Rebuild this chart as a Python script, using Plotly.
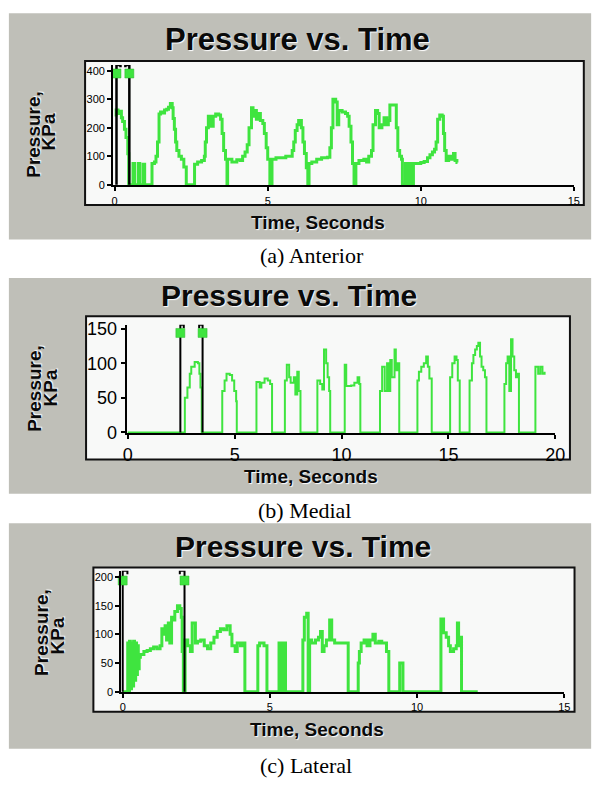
import plotly.graph_objects as go

W, H = 607, 786

# ---------------- data ----------------
# (a) Anterior  -- step trace, value holds until next time
time_a = [0.0, 0.05, 0.11, 0.16, 0.22, 0.26, 0.32, 0.37, 0.43, 0.46,
          0.6, 0.65, 0.77, 0.82, 0.93, 0.98,
          1.22, 1.3, 1.35, 1.4, 1.45, 1.5, 1.57, 1.63, 1.7, 1.76, 1.82, 1.88, 1.91, 1.95, 1.99, 2.03, 2.1, 2.18, 2.26, 2.34,
          2.61, 2.71, 2.84, 2.93, 2.96, 3.0, 3.06, 3.14, 3.22, 3.3, 3.4, 3.46, 3.51, 3.56, 3.62, 3.67,
          3.69, 3.83, 3.99, 4.1, 4.18, 4.26, 4.33, 4.39, 4.47, 4.52, 4.57, 4.63, 4.68, 4.76, 4.84, 4.89, 4.95, 5.0, 5.07,
          5.14, 5.27, 5.43, 5.59, 5.74, 5.8, 5.85, 5.9, 5.96, 6.01, 6.1, 6.15, 6.2, 6.26, 6.31,
          6.35, 6.44, 6.6, 6.76, 6.95, 7.03, 7.08, 7.13, 7.22, 7.27, 7.32, 7.43, 7.54, 7.61, 7.66, 7.72, 7.77, 7.82,
          7.88, 7.98, 8.14, 8.23, 8.3, 8.39, 8.44, 8.52, 8.59, 8.64, 8.73, 8.8, 8.89, 8.94, 8.99, 9.15, 9.2, 9.25, 9.31, 9.37, 9.4,
          9.5, 9.55, 9.63, 9.68, 9.76,
          10.0, 10.11, 10.22, 10.3, 10.38, 10.45, 10.5, 10.55, 10.62, 10.7, 10.74, 10.78, 10.83, 10.91, 11.0, 11.07, 11.12, 11.18, 11.2]
pres_a = [245, 262, 250, 258, 235, 222, 195, 166, 109, 0,
          75, 0, 75, 0, 72, 0,
          75, 80, 100, 150, 248, 255, 252, 262, 265, 272, 285, 270, 232, 195, 150, 120, 100, 90, 62, 0,
          72, 80, 85, 100, 150, 200, 240, 205, 240, 248, 245, 230, 180, 120, 90, 0,
          90, 80, 88, 85, 100, 115, 140, 200, 270, 240, 260, 230, 250, 225, 215, 180, 130, 90, 0,
          90, 95, 95, 100, 100, 120, 150, 190, 210, 225, 200, 150, 110, 60, 0,
          75, 80, 90, 95, 97, 130, 200, 300, 290, 210, 260, 255, 250, 240, 205, 150, 75, 0,
          75, 85, 90, 80, 100, 120, 210, 260, 250, 200, 210, 235, 210, 225, 280, 280, 200, 120, 100, 90, 0,
          75, 0, 75, 0, 75,
          78, 82, 95, 105, 115, 125, 150, 230, 245, 240, 180, 120, 85, 100, 90, 110, 85, 78, 78]

# (b) Medial
time_b = [0.0,
          2.67, 2.79, 2.9, 2.97, 3.13, 3.28, 3.35, 3.4, 3.46,
          4.42, 4.53, 4.62, 4.77, 4.88, 4.98, 5.07, 5.1,
          6.02, 6.17, 6.25, 6.4, 6.55, 6.66, 6.75,
          7.35, 7.44, 7.55, 7.62, 7.77, 7.84, 7.93, 8.0, 8.08,
          8.87, 9.0, 9.1, 9.18, 9.28, 9.35, 9.42, 9.47,
          10.15, 10.22, 10.45, 10.6, 10.75, 10.83, 10.88,
          11.8, 11.9, 12.02, 12.13, 12.2, 12.28, 12.35, 12.48, 12.54, 12.63, 12.7,
          13.55, 13.62, 13.73, 13.85, 13.96, 14.04, 14.11, 14.22,
          15.08, 15.18, 15.29, 15.38, 15.44, 15.53,
          15.99, 16.1, 16.17, 16.25, 16.33, 16.4, 16.48, 16.55, 16.63, 16.71, 16.78,
          17.62, 17.7, 17.77, 17.85, 17.93, 18.0, 18.08, 18.16, 18.23, 18.3,
          19.07, 19.2, 19.3, 19.4, 19.5]
pres_b = [0,
          50, 65, 85, 95, 102, 100, 85, 65, 0,
          60, 75, 85, 83, 75, 60, 45, 0,
          73, 65, 72, 78, 75, 70, 0,
          75, 98, 80, 72, 80, 55, 88, 60, 0,
          75, 70, 62, 120, 100, 80, 60, 0,
          98, 67, 68, 72, 80, 70, 0,
          60, 95, 60, 100, 60, 105, 80, 120, 90, 100, 0,
          75, 88, 95, 100, 110, 95, 78, 0,
          80, 100, 110, 105, 75, 0,
          75, 100, 112, 120, 125, 130, 110, 95, 90, 80, 0,
          70, 100, 110, 60, 135, 110, 90, 80, 85, 0,
          95, 85, 95, 85, 88]

# (c) Lateral
time_c = [0.0, 0.17, 0.2, 0.23, 0.26, 0.3, 0.33, 0.37, 0.4, 0.44, 0.47, 0.5, 0.53, 0.56,
          0.6, 0.72, 0.83, 0.94, 1.05, 1.16, 1.27, 1.33, 1.38, 1.44, 1.49, 1.55, 1.6, 1.66, 1.71, 1.77, 1.86, 1.94, 1.99, 2.02, 2.06,
          2.12, 2.21, 2.3, 2.36, 2.47, 2.54, 2.65, 2.77, 2.88, 2.99, 3.1, 3.21, 3.32, 3.43, 3.54, 3.65, 3.71, 3.82, 3.89, 4.0, 4.09, 4.15,
          4.59, 4.65, 4.8, 4.9,
          5.31, 5.34, 5.37, 5.4, 5.43, 5.46, 5.49, 5.53,
          6.12, 6.17, 6.25, 6.3, 6.35, 6.42, 6.55, 6.65, 6.72, 6.78, 6.84, 6.92, 7.03, 7.1, 7.2, 7.66,
          8.0, 8.04, 8.1, 8.2, 8.3, 8.4, 8.5, 8.58, 8.7, 8.8, 8.96, 9.04,
          9.41, 9.52,
          10.81, 10.9, 10.99, 11.07, 11.13, 11.24, 11.33, 11.37, 11.41, 11.46, 11.51, 12.06]
pres_c = [0, 85, 0, 88, 5, 85, 10, 88, 20, 85, 30, 80, 40, 60,
          65, 70, 72, 75, 78, 75, 80, 110, 100, 115, 90, 120, 85, 130, 125, 140, 150, 145, 130, 70, 0,
          90, 80, 70, 120, 85, 88, 90, 80, 75, 85, 95, 105, 110, 108, 115, 100, 80, 70, 85, 80, 85, 0,
          80, 85, 80, 0,
          85, 0, 85, 0, 85, 0, 85, 0,
          90, 130, 137, 0, 90, 85, 90, 95, 105, 70, 80, 90, 125, 90, 85, 0,
          50, 70, 85, 90, 80, 90, 100, 85, 88, 85, 70, 0,
          50, 0,
          127, 103, 95, 80, 70, 75, 80, 120, 80, 95, 0, 0]

# cursor times (seconds)
cursor_a = [0.06, 0.48]
cursor_b = [2.46, 3.5]
cursor_c = [0.0, 2.1]

# axis ticks
xticks_a = [0, 5, 10, 15]
yticks_a = [0, 100, 200, 300, 400]
xticks_b = [0, 5, 10, 15, 20]
yticks_b = [0, 50, 100, 150]
xticks_c = [0, 5, 10, 15]
yticks_c = [0, 50, 100, 150, 200]

title_text = "Pressure vs. Time"
xlabel_text = "Time, Seconds"
ylabel_lines = ["Pressure,", "KPa"]
captions = ["(a) Anterior", "(b) Medial", "(c) Lateral"]

# ---------------- layout helpers ----------------
def px(x):
    return x / W


def py(y):
    return 1 - y / H


GREEN = "#3fe43f"
GREY = "#bfbfb8"
FRAME = "#f8f9f8"
SANS = "Liberation Sans, Arial, sans-serif"
SERIF = "Liberation Serif, Times New Roman, serif"

panels = [
    dict(t=time_a, p=pres_a, cur=cursor_a, top=420, w=0.13, hook=8, sq=390,
         xr=[-0.05, 15], yr=[-2, 420], xt=xticks_a, yt=yticks_a,
         xdom=[111.7, 583.3], ydom=[183.9, 61.1], tfs=11, lw=3, cw=2.5,
         grey=[5, 601, 8.3, 239], frame=[83, 593.5, 57, 204],
         title=(300.8, 35, 31), xlab=(321, 222), ylab=[(30, 132), (46, 129)],
         cap=(315, 255)),
    dict(t=time_b, p=pres_b, cur=cursor_b, top=156, w=0.16, hook=5, sq=144,
         xr=[-0.05, 20], yr=[-1, 156], xt=xticks_b, yt=yticks_b,
         xdom=[125.6, 564.3], ydom=[436.4, 325.9], tfs=18, lw=2, cw=2,
         grey=[5, 601, 278.3, 498.3], frame=[84, 579.3, 317.3, 463.3],
         title=(292, 296, 30), xlab=(314.3, 480.5), ylab=[(31, 391), (48, 390)],
         cap=(307.6, 515)),
    dict(t=time_c, p=pres_c, cur=cursor_c, top=211, w=0.16, hook=6, sq=194,
         xr=[-0.05, 15], yr=[-1, 211], xt=xticks_c, yt=yticks_c,
         xdom=[120.0, 573.5], ydom=[700.6, 576.8], tfs=11, lw=3, cw=2,
         grey=[5, 601, 528.3, 758.3], frame=[91.5, 584, 573.5, 720.5],
         title=(306, 552, 30), xlab=(320.2, 738.5), ylab=[(39, 640), (55, 643)],
         cap=(309.5, 775)),
]

fig = go.Figure()
shapes = []
annotations = []
layout_axes = {}

for i, P in enumerate(panels):
    n = "" if i == 0 else str(i + 1)
    xa, ya = "x" + n, "y" + n

    # data trace
    fig.add_trace(go.Scatter(x=P["t"], y=P["p"], mode="lines", line_shape="hv",
                             line=dict(color=GREEN, width=P["lw"]),
                             xaxis=xa, yaxis=ya, hoverinfo="skip"))

    # cursors with small brackets at their tops
    cx, cy = [], []
    for k, tc in enumerate(P["cur"]):
        d = P["w"] if k == 0 else -P["w"]
        cx += [tc, tc, tc + d, tc + d, None]
        cy += [0, P["top"], P["top"], P["top"] - P["hook"], None]
    fig.add_trace(go.Scatter(x=cx, y=cy, mode="lines",
                             line=dict(color="black", width=P["cw"]),
                             xaxis=xa, yaxis=ya, hoverinfo="skip"))
    fig.add_trace(go.Scatter(x=P["cur"], y=[P["sq"]] * len(P["cur"]), mode="markers",
                             marker=dict(symbol="square", size=9, color=GREEN,
                                         line=dict(color="#2fb82f", width=0.5)),
                             cliponaxis=False, xaxis=xa, yaxis=ya, hoverinfo="skip"))

    tickfont = dict(family=SANS, size=P["tfs"], color="#000000")
    layout_axes["xaxis" + n] = dict(
        domain=[px(P["xdom"][0]), px(P["xdom"][1])], range=P["xr"], anchor=ya,
        tickvals=P["xt"], ticktext=[str(v) for v in P["xt"]],
        showline=True, linecolor="black", linewidth=2, showgrid=False, zeroline=False,
        ticks="outside", ticklen=4, tickwidth=1.5, tickcolor="black", tickfont=tickfont,
        fixedrange=True)
    layout_axes["yaxis" + n] = dict(
        domain=[py(P["ydom"][0]), py(P["ydom"][1])], range=P["yr"], anchor=xa,
        tickvals=P["yt"], ticktext=[str(v) for v in P["yt"]],
        showline=True, linecolor="black", linewidth=2, showgrid=False, zeroline=False,
        ticks="outside", ticklen=4, tickwidth=1.5, tickcolor="black", tickfont=tickfont,
        fixedrange=True)

    g = P["grey"]
    shapes.append(dict(type="rect", xref="paper", yref="paper", layer="below",
                       x0=px(g[0]), x1=px(g[1]), y0=py(g[3]), y1=py(g[2]),
                       fillcolor=GREY, line=dict(width=0)))
    f = P["frame"]
    shapes.append(dict(type="rect", xref="paper", yref="paper", layer="below",
                       x0=px(f[0]), x1=px(f[1]), y0=py(f[3]), y1=py(f[2]),
                       fillcolor=FRAME, line=dict(color="#111111", width=2)))

    tx, tyy, tsz = P["title"]
    annotations.append(dict(text="<b>" + title_text + "</b>", x=px(tx), y=py(tyy),
                            xref="paper", yref="paper", xanchor="center", yanchor="middle",
                            showarrow=False,
                            font=dict(family=SANS, size=tsz, color="#0a0a0a",
                                      shadow="1px 1px 1px #ffffff")))
    lx, ly = P["xlab"]
    annotations.append(dict(text="<b>" + xlabel_text + "</b>", x=px(lx), y=py(ly),
                            xref="paper", yref="paper", xanchor="center", yanchor="middle",
                            showarrow=False,
                            font=dict(family=SANS, size=19, color="#0a0a0a",
                                      shadow="1px 1px 1px #ffffff")))
    for (yx, yy), txt in zip(P["ylab"], ylabel_lines):
        annotations.append(dict(text="<b>" + txt + "</b>", x=px(yx), y=py(yy),
                                xref="paper", yref="paper", xanchor="center", yanchor="middle",
                                showarrow=False, textangle=-90,
                                font=dict(family=SANS, size=19, color="#0a0a0a",
                                          shadow="1px 1px 1px #ffffff")))
    capx, capy = P["cap"]
    annotations.append(dict(text=captions[i], x=px(capx), y=py(capy),
                            xref="paper", yref="paper", xanchor="center", yanchor="middle",
                            showarrow=False,
                            font=dict(family=SERIF, size=22, color="#000000")))

fig.update_layout(
    width=W, height=H, margin=dict(l=0, r=0, t=0, b=0),
    paper_bgcolor="white", plot_bgcolor="rgba(0,0,0,0)",
    showlegend=False, shapes=shapes, annotations=annotations,
    **layout_axes)

fig.write_html("out.html", config={"displayModeBar": False},
               post_script="document.body.style.margin='0px';document.body.style.overflow='hidden';")
